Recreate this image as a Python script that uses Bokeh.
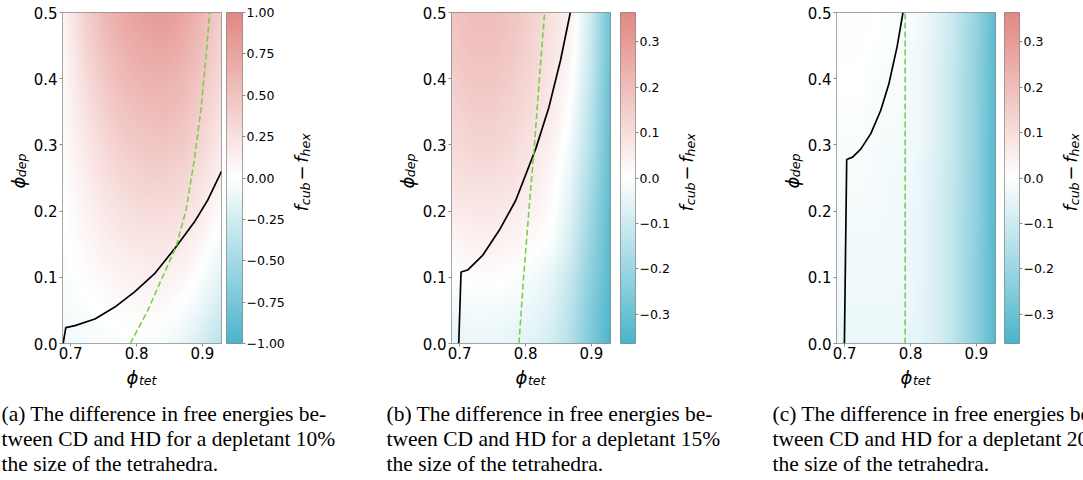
import math
import numpy as np
from bokeh.plotting import figure
from bokeh.layouts import row, column
from bokeh.models import (Range1d, LinearColorMapper, FixedTicker,
                          PrintfTickFormatter, CustomJSTickFormatter, ColumnDataSource)
from bokeh.core.properties import value
from bokeh.embed import file_html
from bokeh.resources import INLINE

# ---------------------------------------------------------------------------
# Data: f_cub - f_hex sampled on a coarse (phi_tet, phi_dep) grid, rows from
# phi_dep = 0 upwards, one table per depletant size.
# ---------------------------------------------------------------------------
PHI_TET = [0.69, 0.72, 0.75, 0.78, 0.81, 0.84, 0.87, 0.90, 0.93]
PHI_DEP = [0.00, 0.05, 0.10, 0.15, 0.20, 0.25, 0.30, 0.35, 0.40, 0.45, 0.50]
PHI_DEP_C = [0.0, 0.1, 0.2, 0.3, 0.4, 0.5]

DF_10 = [
    [-0.08, -0.06, -0.04, -0.03, -0.03, -0.05, -0.12, -0.24, -0.40],
    [-0.05, -0.02, 0.01, 0.04, 0.05, 0.04, -0.02, -0.12, -0.27],
    [-0.03, 0.02, 0.06, 0.10, 0.12, 0.12, 0.08, -0.03, -0.16],
    [-0.01, 0.05, 0.12, 0.18, 0.21, 0.21, 0.17, 0.07, -0.07],
    [0.00, 0.09, 0.18, 0.25, 0.29, 0.30, 0.26, 0.16, 0.02],
    [0.02, 0.13, 0.25, 0.33, 0.38, 0.39, 0.35, 0.25, 0.10],
    [0.03, 0.18, 0.31, 0.41, 0.46, 0.48, 0.44, 0.33, 0.17],
    [0.05, 0.23, 0.38, 0.49, 0.55, 0.57, 0.52, 0.40, 0.24],
    [0.06, 0.28, 0.45, 0.57, 0.63, 0.65, 0.60, 0.47, 0.30],
    [0.08, 0.33, 0.52, 0.65, 0.72, 0.74, 0.68, 0.54, 0.35],
    [0.10, 0.38, 0.58, 0.72, 0.80, 0.83, 0.76, 0.60, 0.40],
]

DF_15 = [
    [-0.05, -0.04, -0.04, -0.05, -0.06, -0.09, -0.16, -0.26, -0.36],
    [-0.03, -0.02, -0.02, -0.03, -0.04, -0.07, -0.14, -0.25, -0.35],
    [0.00, 0.01, 0.01, 0.00, -0.02, -0.05, -0.12, -0.23, -0.34],
    [0.03, 0.04, 0.04, 0.03, 0.01, -0.01, -0.09, -0.21, -0.33],
    [0.06, 0.07, 0.07, 0.06, 0.04, 0.01, -0.07, -0.19, -0.33],
    [0.09, 0.10, 0.10, 0.09, 0.06, 0.02, -0.05, -0.17, -0.32],
    [0.11, 0.13, 0.13, 0.11, 0.08, 0.04, -0.03, -0.15, -0.32],
    [0.13, 0.15, 0.15, 0.13, 0.10, 0.06, -0.01, -0.14, -0.31],
    [0.15, 0.17, 0.17, 0.15, 0.12, 0.07, 0.01, -0.12, -0.31],
    [0.17, 0.19, 0.19, 0.17, 0.13, 0.08, 0.03, -0.11, -0.30],
    [0.18, 0.20, 0.20, 0.18, 0.14, 0.09, 0.04, -0.10, -0.30],
]

DF_20 = [
    [-0.04, -0.04, -0.04, -0.04, -0.05, -0.08, -0.14, -0.23, -0.34],
    [-0.03, -0.03, -0.03, -0.03, -0.04, -0.08, -0.14, -0.23, -0.34],
    [-0.02, -0.02, -0.02, -0.03, -0.04, -0.08, -0.14, -0.22, -0.34],
    [-0.01, -0.01, -0.02, -0.02, -0.03, -0.07, -0.13, -0.22, -0.34],
    [0.00, 0.00, -0.01, -0.01, -0.03, -0.07, -0.13, -0.22, -0.33],
    [0.01, 0.01, 0.00, -0.01, -0.02, -0.06, -0.12, -0.21, -0.33],
]

# coexistence line (solid) and equal-density line (dashed)
SOLID_10_X = [0.6885, 0.6925, 0.7065, 0.7367, 0.767, 0.797, 0.827, 0.860, 0.8875, 0.9077, 0.929]
SOLID_10_Y = [0.000, 0.024, 0.027, 0.037, 0.055, 0.078, 0.105, 0.146, 0.183, 0.216, 0.260]
DASH_10_X = [0.7905, 0.817, 0.837, 0.860, 0.875, 0.8875, 0.8976, 0.905, 0.911]
DASH_10_Y = [0.000, 0.050, 0.095, 0.146, 0.201, 0.276, 0.352, 0.4275, 0.500]

SOLID_15_X = [0.6985, 0.702, 0.712, 0.7347, 0.760, 0.785, 0.8154, 0.8355, 0.853, 0.868]
SOLID_15_Y = [0.000, 0.108, 0.111, 0.133, 0.171, 0.216, 0.294, 0.357, 0.4275, 0.500]
DASH_15_X = [0.790, 0.797, 0.805, 0.8135, 0.821, 0.829]
DASH_15_Y = [0.0, 0.1, 0.2, 0.3, 0.4, 0.5]

SOLID_20_X = [0.6995, 0.703, 0.712, 0.7246, 0.7396, 0.7546, 0.767, 0.7795, 0.7885]
SOLID_20_Y = [0.000, 0.278, 0.2815, 0.294, 0.317, 0.352, 0.392, 0.448, 0.500]
DASH_20_X = [0.7918, 0.7918]
DASH_20_Y = [0.0, 0.5]

X_TICKS = [0.7, 0.8, 0.9]
Y_TICKS = [0.0, 0.1, 0.2, 0.3, 0.4, 0.5]
CB_TICKS_10 = [-1.0, -0.75, -0.5, -0.25, 0.0, 0.25, 0.5, 0.75, 1.0]
CB_TICKS_SMALL = [-0.3, -0.2, -0.1, 0.0, 0.1, 0.2, 0.3]
CB_LIMITS = [(-1.0, 1.0), (-0.364, 0.364), (-0.364, 0.364)]

CAPTIONS = [
    ["(a) The difference in free energies be-",
     "tween CD and HD for a depletant 10%",
     "the size of the tetrahedra."],
    ["(b) The difference in free energies be-",
     "tween CD and HD for a depletant 15%",
     "the size of the tetrahedra."],
    ["(c) The difference in free energies be-",
     "tween CD and HD for a depletant 20%",
     "the size of the tetrahedra."],
]

# ---------------------------------------------------------------------------
# Geometry (page pixels) and styling
# ---------------------------------------------------------------------------
X_MIN, X_MAX = 0.6875, 0.929
FRAME_W, FRAME_H = 160, 331
TOP, BOTTOM, LEFT = 12, 22, 31
ROW_H = TOP + FRAME_H + BOTTOM          # 365
PAGE_W, PAGE_H = 1083, 480
CB_W = 17
RIGHT_GAPS = [5, 10, 9]
CB_RIGHT = [44, 35, 35]
FRAME_LEFT = [61, 450, 835]
CB_LABEL_BASE = [301, 686, 1070]
YLABEL_BASE_DX = -43
YLABEL_CY = 176
CB_LABEL_CY = 177.5
XLABEL_BASE_Y = 376.5
CAP_X = [1, 386, 772]
CAP_BASE = [413, 438, 463]
SPINE = "#8a8a8a"
FONT = "DejaVu Sans"

LOW_RGB = (76, 181, 203)
MID_RGB = (255, 255, 255)
HIGH_RGB = (226, 136, 130)


def make_palette(n=256):
    cols = []
    for i in range(n):
        t = i / (n - 1)
        if t < 0.5:
            a, b, s = LOW_RGB, MID_RGB, t / 0.5
        else:
            a, b, s = MID_RGB, HIGH_RGB, (t - 0.5) / 0.5
        c = [round(a[k] + (b[k] - a[k]) * s) for k in range(3)]
        cols.append("#%02x%02x%02x" % tuple(c))
    return cols


PALETTE = make_palette()

# advance widths (em) of the DejaVu Sans glyphs used in the math labels
EM = {"ϕ": 0.66, "f": 0.352, "c": 0.550, "u": 0.634, "b": 0.635, "h": 0.634,
      "e": 0.615, "x": 0.592, "d": 0.635, "p": 0.635, "t": 0.392, "−": 0.838}

PHI_TET_LABEL = [("ϕ", 18, True, 0, 0), ("tet", 12.6, True, 3, 0.5)]
PHI_DEP_LABEL = [("ϕ", 18, True, 0, 0), ("dep", 12.6, True, 3, 0.5)]
DF_LABEL = [("f", 18, True, 0, 0), ("cub", 12.6, True, 4, 0.5),
            ("−", 18, False, 0, 4.5), ("f", 18, True, 0, 4.5),
            ("hex", 12.6, True, 4, 0.5)]


def smooth_field(xg, yg, rows, nx=161, ny=331):
    grid = np.asarray(rows, dtype=float)
    xs = np.linspace(X_MIN, X_MAX, nx)
    ys = np.linspace(0.0, 0.5, ny)
    tmp = np.array([np.interp(xs, xg, r) for r in grid])
    return np.array([np.interp(ys, yg, tmp[:, j]) for j in range(nx)]).T


def place_math(p, pieces, cx, cy, vertical=False):
    """Typeset (text, size, italic, drop, gap) pieces centred on a page-pixel anchor.

    Horizontal: cx is the centre, cy the baseline.  Vertical (reading upwards):
    cx is the baseline, cy the centre.  Figures use y = -page_y as data.
    """
    widths = [gap + sum(EM[ch] for ch in txt) * size for txt, size, it, drop, gap in pieces]
    along = -sum(widths) / 2.0
    for (txt, size, italic, drop, gap), w in zip(pieces, widths):
        along += gap
        if vertical:
            x, y, ang = cx + drop, cy - along, math.pi / 2
        else:
            x, y, ang = cx + along, cy + drop, 0.0
        p.text(x=[x], y=[-y], text=[txt], angle=ang,
               text_font=value(FONT), text_font_size=f"{size}px",
               text_font_style="italic" if italic else "normal",
               text_color="black", text_align="left", text_baseline="alphabetic")
        along += w - gap


def blank(x0, x1, y0, y1):
    """A bare figure whose data coordinates are page pixels (y negated)."""
    f = figure(width=x1 - x0, height=y1 - y0, x_range=Range1d(x0, x1),
               y_range=Range1d(-y1, -y0), output_backend="svg",
               toolbar_location=None, tools="", min_border=0,
               min_border_left=0, min_border_right=0, min_border_top=0, min_border_bottom=0)
    f.axis.visible = False
    f.grid.visible = False
    f.outline_line_color = None
    f.background_fill_color = "white"
    f.border_fill_color = "white"
    return f


def style_axis(ax, size):
    ax.axis_line_color = None
    ax.major_tick_line_color = SPINE
    ax.major_tick_out = 3
    ax.major_tick_in = 0
    ax.minor_tick_line_color = None
    ax.major_label_text_font = FONT
    ax.major_label_text_font_size = size
    ax.major_label_text_color = "black"


def heat_panel(yg, rows, sx, sy, dx, dy, mapper, gap):
    p = figure(width=LEFT + FRAME_W + gap, height=ROW_H,
               x_range=Range1d(X_MIN, X_MAX), y_range=Range1d(0, 0.5),
               output_backend="svg", toolbar_location=None, tools="",
               min_border_left=LEFT, min_border_right=gap,
               min_border_top=TOP, min_border_bottom=BOTTOM)
    p.background_fill_color = "white"
    p.border_fill_color = "white"
    p.outline_line_color = SPINE
    p.outline_line_width = 1
    p.grid.visible = False
    p.image(image=[smooth_field(PHI_TET, yg, rows)], x=X_MIN, y=0,
            dw=X_MAX - X_MIN, dh=0.5, color_mapper=mapper)
    p.line(sx, sy, line_color="black", line_width=1.7)
    p.line(dx, dy, line_color="#78cf4c", line_width=1.6, line_dash="6 3")
    style_axis(p.xaxis[0], "15px")
    style_axis(p.yaxis[0], "15px")
    p.xaxis.ticker = FixedTicker(ticks=X_TICKS)
    p.yaxis.ticker = FixedTicker(ticks=Y_TICKS)
    p.xaxis.formatter = PrintfTickFormatter(format="%.1f")
    p.yaxis.formatter = PrintfTickFormatter(format="%.1f")
    p.xaxis.major_label_standoff = 0
    p.yaxis.major_label_standoff = 2
    return p


def colorbar_panel(lo, hi, ticks, digits, right, mapper):
    c = figure(width=CB_W + right, height=ROW_H,
               x_range=Range1d(0, 1), y_range=Range1d(lo, hi),
               y_axis_location="right", output_backend="svg",
               toolbar_location=None, tools="",
               min_border_left=0, min_border_right=right,
               min_border_top=TOP, min_border_bottom=BOTTOM)
    c.background_fill_color = "white"
    c.border_fill_color = "white"
    c.outline_line_color = SPINE
    c.grid.visible = False
    c.xaxis.visible = False
    grad = np.linspace(lo, hi, FRAME_H).reshape(-1, 1)
    c.image(image=[grad], x=0, y=lo, dw=1, dh=hi - lo, color_mapper=mapper)
    ax = c.yaxis[0]
    style_axis(ax, "12.5px")
    ax.ticker = FixedTicker(ticks=ticks)
    ax.formatter = CustomJSTickFormatter(
        code=f"return tick.toFixed({digits}).replace('-', '\\u2212');")
    ax.major_label_standoff = 1
    return c


PANELS = [
    (PHI_DEP, DF_10, SOLID_10_X, SOLID_10_Y, DASH_10_X, DASH_10_Y, CB_TICKS_10, 2),
    (PHI_DEP, DF_15, SOLID_15_X, SOLID_15_Y, DASH_15_X, DASH_15_Y, CB_TICKS_SMALL, 1),
    (PHI_DEP_C, DF_20, SOLID_20_X, SOLID_20_Y, DASH_20_X, DASH_20_Y, CB_TICKS_SMALL, 1),
]

heats, bars = [], []
for i, (yg, rows, sx, sy, dx, dy, cbt, dig) in enumerate(PANELS):
    lo, hi = CB_LIMITS[i]
    mapper = LinearColorMapper(palette=PALETTE, low=lo, high=hi)
    heats.append(heat_panel(yg, rows, sx, sy, dx, dy, mapper, RIGHT_GAPS[i]))
    bars.append(colorbar_panel(lo, hi, cbt, dig, CB_RIGHT[i], mapper))

# strips between the panels carrying the rotated axis / colour-bar titles
edges = []
x = 0
for i in range(3):
    start = FRAME_LEFT[i] - LEFT
    edges.append((x, start))
    x = FRAME_LEFT[i] + FRAME_W + RIGHT_GAPS[i] + CB_W + CB_RIGHT[i]
edges.append((x, PAGE_W))
strips = [blank(a, b, 0, ROW_H) for a, b in edges]

for i in range(3):
    place_math(strips[i], PHI_DEP_LABEL, FRAME_LEFT[i] + YLABEL_BASE_DX, YLABEL_CY, vertical=True)
    place_math(strips[i + 1], DF_LABEL, CB_LABEL_BASE[i], CB_LABEL_CY, vertical=True)

top = []
for i in range(3):
    top += [strips[i], heats[i], bars[i]]
top.append(strips[3])

# bottom band: x-axis titles and the sub-figure captions
cap = blank(0, PAGE_W, ROW_H, PAGE_H)
for i in range(3):
    place_math(cap, PHI_TET_LABEL, FRAME_LEFT[i] + FRAME_W / 2, XLABEL_BASE_Y)
cx, cy, ct = [], [], []
for i, lines in enumerate(CAPTIONS):
    for j, line in enumerate(lines):
        cx.append(CAP_X[i])
        cy.append(-CAP_BASE[j])
        ct.append(line)
cap.text(x="x", y="y", text="t", source=ColumnDataSource(dict(x=cx, y=cy, t=ct)),
         text_font=value("Liberation Serif"), text_font_size="21.5px",
         text_color="black", text_align="left", text_baseline="alphabetic")

layout = column(row(*top, spacing=0), cap, spacing=0)
open("out.html", "w").write(file_html(layout, INLINE))
